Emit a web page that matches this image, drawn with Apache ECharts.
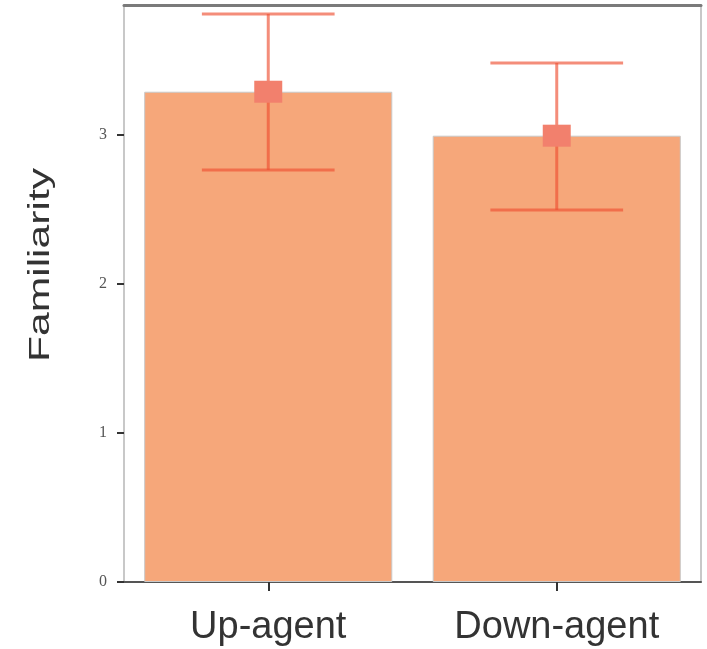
<!DOCTYPE html>
<html>
<head>
<meta charset="utf-8">
<script src="https://cdn.jsdelivr.net/npm/echarts@6/dist/echarts.min.js"></script>
<style>html,body{margin:0;padding:0;background:#fff}#c{width:707px;height:649px}</style>
</head>
<body>
<div id="c"></div>
<script>
var categories = ['Up-agent', 'Down-agent'];
var means = [3.29, 2.995];
var errLow = [2.765, 2.497];
var errHigh = [3.812, 3.483];
var yTicks = [0, 1, 2, 3];
var yMax = 3.872;

var chart = echarts.init(document.getElementById('c'));
var errData = categories.map(function (c, i) { return [i, errLow[i], errHigh[i]]; });

chart.setOption({
  animation: false,
  grid: { left: 124, right: 6, top: 5, bottom: 67 },
  xAxis: [{
    type: 'category', data: categories, position: 'bottom',
    axisLine: { show: true, onZero: false, lineStyle: { color: '#555', width: 2 } },
    axisTick: { show: true, alignWithLabel: true, length: 9, lineStyle: { color: '#333', width: 2 } },
    axisLabel: { fontSize: 38, color: '#333', fontFamily: 'Liberation Sans, Arial, sans-serif', margin: 27 },
    splitLine: { show: false }
  }, {
    type: 'category', data: categories, position: 'top',
    axisLine: { show: true, onZero: false, lineStyle: { color: '#7a7a7a', width: 3 } },
    axisTick: { show: false }, axisLabel: { show: false }, splitLine: { show: false }
  }],
  yAxis: [{
    type: 'value', min: 0, max: yMax, interval: 1, position: 'left',
    axisLine: { show: true, onZero: false, lineStyle: { color: '#c8c8c8', width: 2 } },
    axisTick: { show: true, length: 7, customValues: yTicks, lineStyle: { color: '#333', width: 2 } },
    axisLabel: { customValues: yTicks, fontSize: 16, color: '#555', fontFamily: 'Liberation Serif, Times New Roman, serif', margin: 17 },
    splitLine: { show: false }
  }, {
    type: 'value', min: 0, max: yMax, interval: 1, position: 'right',
    axisLine: { show: true, onZero: false, lineStyle: { color: '#c8c8c8', width: 2 } },
    axisTick: { show: false }, axisLabel: { show: false }, splitLine: { show: false }
  }],
  graphic: [{
    type: 'text', x: 41, y: 265, rotation: Math.PI / 2, scaleX: 1.42,
    style: { text: 'Familiarity', fontSize: 30, fill: '#333', fontFamily: 'Liberation Sans, Arial, sans-serif', align: 'center', verticalAlign: 'middle' }
  }],
  series: [{
    type: 'bar', data: means, barWidth: '86%',
    itemStyle: { color: '#F6A77A', borderColor: '#c9c9c9', borderWidth: 1 },
    z: 2
  }, {
    type: 'custom', data: errData, z: 3,
    renderItem: function (params, api) {
      var x = api.value(0);
      var lo = api.coord([x, api.value(1)]);
      var hi = api.coord([x, api.value(2)]);
      var half = api.size([1, 0])[0] * 0.23;
      var st = { stroke: 'rgba(238,80,50,0.65)', lineWidth: 3 };
      return {
        type: 'group', children: [
          { type: 'line', shape: { x1: hi[0], y1: hi[1], x2: lo[0], y2: lo[1] }, style: st },
          { type: 'line', shape: { x1: hi[0] - half, y1: hi[1], x2: hi[0] + half, y2: hi[1] }, style: st },
          { type: 'line', shape: { x1: lo[0] - half, y1: lo[1], x2: lo[0] + half, y2: lo[1] }, style: st }
        ]
      };
    }
  }, {
    type: 'scatter', data: means, symbol: 'rect', symbolSize: [28, 22], z: 4,
    itemStyle: { color: '#F2806D', opacity: 1 }
  }]
});
</script>
</body>
</html>
